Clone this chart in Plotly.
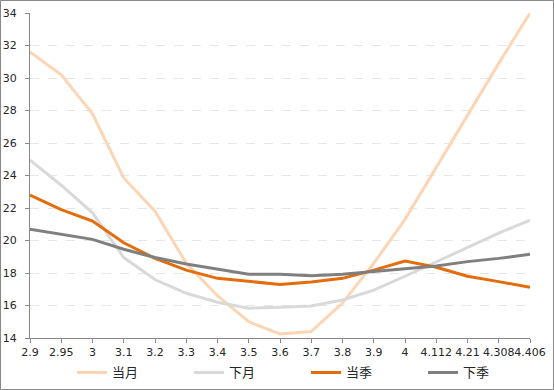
import plotly.graph_objects as go

categories = ["2.9", "2.95", "3", "3.1", "3.2", "3.3", "3.4", "3.5", "3.6", "3.7",
              "3.8", "3.9", "4", "4.112", "4.21", "4.308", "4.406"]
dangyue = [31.6, 30.2, 27.8, 23.85, 21.8, 18.6, 16.6, 15.0, 14.25, 14.4,
           16.15, 18.6, 21.3, 24.5, 27.7, 30.9, 34.0]
xiayue = [24.95, 23.4, 21.7, 18.95, 17.6, 16.75, 16.2, 15.83, 15.9, 15.97,
          16.34, 16.95, 17.8, 18.7, 19.6, 20.45, 21.26]
dangji = [22.8, 21.9, 21.2, 19.86, 18.9, 18.18, 17.67, 17.5, 17.3, 17.45,
          17.67, 18.18, 18.74, 18.35, 17.8, 17.47, 17.12]
xiaji = [20.7, 20.4, 20.07, 19.46, 18.95, 18.55, 18.23, 17.92, 17.92, 17.83,
         17.92, 18.08, 18.25, 18.43, 18.7, 18.9, 19.15]

series = [
    ("当月", dangyue, "#FCD5B5"),
    ("下月", xiayue, "#D9D9D9"),
    ("当季", dangji, "#E46C0A"),
    ("下季", xiaji, "#7F7F7F"),
]

fig = go.Figure()
for name, vals, color in series:
    fig.add_trace(go.Scatter(x=categories, y=vals, name=name, mode="lines",
                             line=dict(color=color, width=3)))

W, H = 554, 390
L, R, T, B = 30, 24, 13, 52
pw, ph = W - L - R, H - T - B

fig.update_layout(
    width=W, height=H,
    margin=dict(l=L, r=R, t=T, b=B, autoexpand=False),
    paper_bgcolor="white", plot_bgcolor="white",
    font=dict(family="DejaVu Sans, Noto Sans CJK SC", size=11, color="#262626"),
    showlegend=True,
    legend=dict(orientation="h", xref="container", x=0.13, xanchor="left",
                yref="container", y=0.045, yanchor="middle",
                bgcolor="rgba(0,0,0,0)",
                entrywidth=72, entrywidthmode="pixels",
                font=dict(family="Noto Sans CJK SC", size=13, color="#262626")),
    xaxis=dict(type="category", range=[0, 16], showgrid=False, automargin=False,
               tickmode="array", tickvals=categories, ticktext=categories,
               showline=True, linecolor="#888888", linewidth=1, tickangle=0,
               ticks="outside", ticklen=4, tickcolor="#888888",
               tickfont=dict(size=11)),
    yaxis=dict(range=[14, 34], dtick=2, showgrid=True, gridcolor="#E6E6E6",
               griddash="dash", gridwidth=1, zeroline=False, automargin=False,
               showline=True, linecolor="#888888", linewidth=1,
               ticks="outside", ticklen=4, tickcolor="#888888",
               ticklabelstandoff=6, tickfont=dict(size=11)),
)

fig.add_shape(type="rect", xref="paper", yref="paper",
              x0=(0.5 - L) / pw, x1=(W - 0.5 - L) / pw,
              y0=-(B - 0.5) / ph, y1=(ph + T - 0.5) / ph,
              line=dict(color="#888888", width=1), layer="below")

fig.write_html("out.html", config={"displayModeBar": False},
               post_script="document.body.style.margin='0';document.body.style.padding='0';")
